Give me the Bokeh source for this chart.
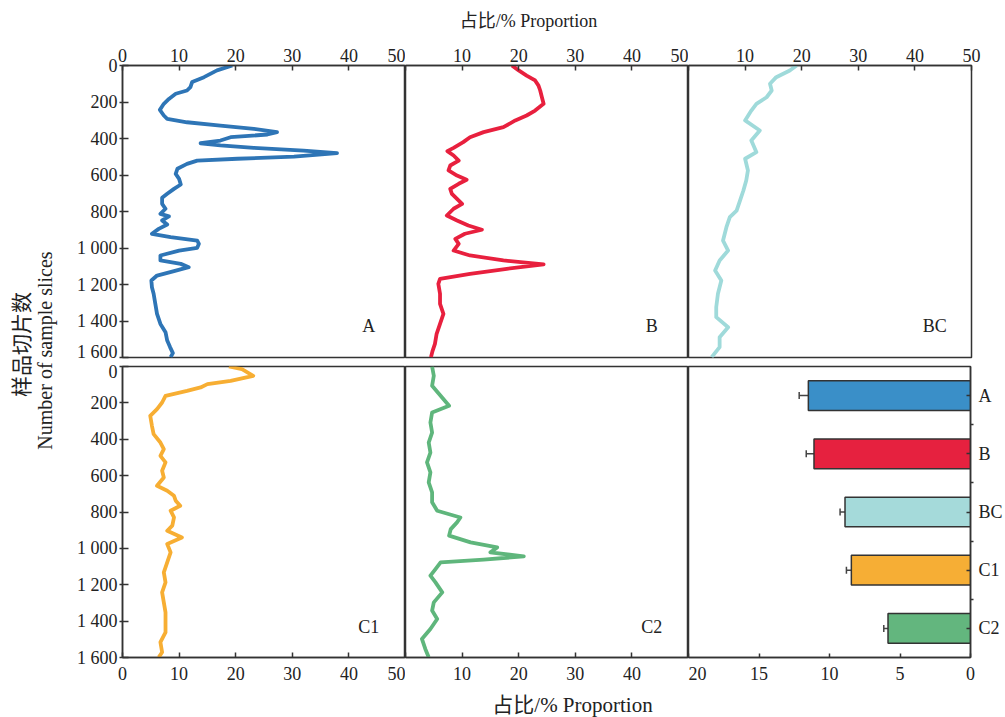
import math
from bokeh.plotting import figure
from bokeh.layouts import row, column
from bokeh.models import Range1d, FixedTicker, Label, Whisker, ColumnDataSource, TeeHead
from bokeh.embed import file_html
from bokeh.resources import INLINE

# ---------------- data ----------------
y_ticks = [0, 200, 400, 600, 800, 1000, 1200, 1400, 1600]
x_ticks = [0, 10, 20, 30, 40, 50]
bar_ticks = [0, 5, 10, 15, 20]

a_slice = [0, 27, 64, 91, 119, 137, 155, 183, 210, 243, 274, 292, 311, 329, 347, 365, 378, 393, 411, 426,
           438, 451, 466, 480, 499, 511, 521, 539, 566, 594, 621, 652, 676, 703, 725, 758, 785, 813, 827, 849,
           871, 895, 922, 941, 959, 977, 999, 1014, 1041, 1068, 1087, 1105, 1127, 1151, 1178, 1215, 1251, 1306, 1361, 1416,
           1461, 1507, 1543, 1576, 1598]
a_prop = [19.4, 16.7, 14.4, 12.3, 12.0, 11.4, 9.4, 8.2, 7.3, 6.6, 7.3, 7.9, 11.4, 17.3, 23.2, 27.3, 25.6, 19.1, 17.3, 13.8,
          17.3, 23.2, 32.0, 37.9, 30.3, 20.3, 13.2, 11.4, 9.7, 9.4, 10.0, 10.3, 9.1, 7.9, 7.0, 7.0, 7.6, 6.7, 8.2, 7.0,
          7.9, 6.4, 5.2, 8.5, 13.2, 13.5, 13.2, 10.0, 6.7, 6.7, 10.3, 11.7, 9.1, 6.1, 5.1, 5.2, 5.5, 5.8, 6.1, 6.7,
          7.6, 7.9, 8.4, 8.9, 8.5]

b_slice = [0, 27, 55, 82, 110, 137, 174, 210, 247, 274, 301, 338, 365, 393, 420, 451, 469, 493, 521, 548,
           575, 603, 626, 648, 676, 703, 731, 758, 785, 822, 849, 877, 900, 922, 950, 977, 1014, 1041, 1068, 1090,
           1114, 1142, 1169, 1196, 1251, 1306, 1361, 1416, 1470, 1525, 1562, 1598]
b_prop = [18.8, 20.0, 21.4, 22.9, 23.5, 23.8, 24.1, 24.4, 22.9, 21.4, 19.4, 17.3, 13.8, 11.4, 10.2, 8.5, 7.4, 8.5, 9.4, 7.9,
          7.6, 9.1, 10.8, 9.4, 7.9, 8.2, 9.1, 10.0, 8.5, 7.3, 9.1, 11.1, 13.5, 10.5, 8.8, 9.4, 8.5, 11.4, 17.3, 24.4,
          17.9, 11.4, 6.1, 5.8, 6.1, 6.1, 6.7, 6.1, 5.5, 5.2, 4.8, 4.5]

bc_slice = [0, 27, 64, 100, 137, 174, 210, 247, 301, 356, 411, 475, 511, 575, 630, 685, 740, 795, 831, 886,
            959, 1014, 1068, 1123, 1178, 1251, 1324, 1379, 1434, 1489, 1543, 1598]
bc_prop = [19.1, 17.9, 15.5, 14.4, 14.7, 13.8, 12.0, 11.1, 10.0, 12.6, 11.1, 12.0, 10.0, 10.5, 10.2, 9.7, 9.1, 8.5, 7.3, 6.7,
           6.1, 7.0, 5.5, 4.7, 5.8, 5.2, 4.9, 4.9, 7.0, 5.5, 5.5, 4.1]

c1_slice = [0, 15, 51, 79, 97, 115, 134, 161, 198, 234, 271, 326, 372, 418, 454, 491, 527, 573, 610, 656,
            683, 711, 738, 766, 793, 830, 875, 903, 940, 976, 1022, 1077, 1132, 1187, 1242, 1297, 1352, 1407, 1462, 1516,
            1571, 1599]
c1_prop = [18.8, 21.1, 23.1, 19.1, 15.0, 13.8, 11.4, 7.6, 7.0, 6.1, 4.9, 5.2, 5.5, 6.7, 7.3, 6.7, 7.6, 7.0, 7.3, 6.1,
           7.9, 9.1, 9.4, 10.2, 8.5, 9.1, 8.8, 7.9, 10.5, 7.9, 8.5, 7.9, 7.3, 7.6, 7.0, 7.3, 7.6, 7.6, 7.6, 6.7,
           7.0, 6.4]

c2_slice = [0, 51, 106, 161, 216, 253, 308, 363, 418, 473, 527, 582, 637, 692, 747, 793, 830, 857, 894, 930,
            967, 995, 1022, 1044, 1062, 1077, 1114, 1150, 1187, 1242, 1297, 1342, 1388, 1443, 1498, 1553, 1599]
c2_prop = [4.7, 5.0, 4.7, 6.2, 7.7, 4.7, 4.4, 4.7, 4.1, 4.4, 3.8, 4.4, 4.1, 4.7, 4.7, 5.6, 9.7, 9.1, 8.0, 7.7,
           11.5, 16.2, 15.0, 20.9, 13.8, 6.2, 5.3, 4.4, 5.3, 6.5, 5.0, 4.7, 5.6, 4.4, 2.9, 3.5, 4.1]

bar_cats = ["A", "B", "BC", "C1", "C2"]
bar_mean = [11.5, 11.1, 8.9, 8.45, 5.85]
bar_err = [0.65, 0.55, 0.35, 0.35, 0.3]

line_colors = {"A": "#2e75b6", "B": "#e8203e", "BC": "#9fdada", "C1": "#f7ae33", "C2": "#5fb67c"}
bar_colors = ["#3a8fc8", "#e6213f", "#a5dada", "#f6ae35", "#63b67e"]

# ---------------- styling ----------------
SERIF = "Liberation Serif"
MIXED = "Liberation Serif, Noto Sans CJK SC"
DARK = "#333333"
TXT = "#222222"
FS = "18px"
TITLE = "占比/% Proportion"

LAB_W = 58
TOP_T = 33                  # strip with the upper axis title
TOP_H = 32 + 292 + 4        # upper panels
BOT_H = 5 + 291 + 30        # lower panels
BOT_T = 717 - TOP_T - TOP_H - BOT_H   # strip with the lower axis title
RIGHT_B = 34
PANELS_W = 347 + 283 + 283 + RIGHT_B


def y_label(t):
    return f"{t // 1000} {t % 1000:03d}" if t >= 1000 else str(t)


def style_axis(ax):
    ax.axis_line_color = DARK
    ax.axis_line_width = 1.5
    ax.major_tick_line_color = DARK
    ax.major_tick_line_width = 1.5
    ax.minor_tick_line_color = None
    ax.major_label_text_font = SERIF
    ax.major_label_text_font_size = FS
    ax.major_label_text_color = TXT


def make_fig(width, height, borders, x_loc, y_loc, y_range, x_range):
    l, r, t, b = borders
    p = figure(width=width, height=height, x_range=x_range, y_range=y_range,
               x_axis_location=x_loc, y_axis_location=y_loc,
               min_border_left=l, min_border_right=r, min_border_top=t, min_border_bottom=b,
               toolbar_location=None, output_backend="svg")
    p.outline_line_color = DARK
    p.outline_line_width = 1.5
    p.outline_line_alpha = 1
    p.xgrid.grid_line_color = None
    p.ygrid.grid_line_color = None
    p.background_fill_color = "white"
    p.border_fill_color = "white"
    for ax in p.axis:
        style_axis(ax)
    return p


def profile(name, xs, ys, width, borders, x_loc, y_loc, hide_labels, top=True):
    p = make_fig(width, TOP_H if top else BOT_H, borders, x_loc, y_loc,
                 Range1d(1600, 0), Range1d(0, 50))
    p.line(x=xs, y=ys, line_color=line_colors[name], line_width=3.8, line_join="round")
    xa = p.xaxis[0]
    xa.ticker = FixedTicker(ticks=x_ticks, minor_ticks=[])
    xa.major_tick_in = 5
    xa.major_tick_out = 0
    xa.major_label_standoff = 4 if top else 9
    xa.major_label_overrides = {t: "" for t in hide_labels}
    if y_loc is not None:
        ya = p.yaxis[0]
        ya.ticker = FixedTicker(ticks=y_ticks, minor_ticks=[])
        ya.major_label_overrides = {t: y_label(t) for t in y_ticks}
        ya.major_tick_in = 6
        ya.major_tick_out = 3
        ya.major_label_standoff = 2
    p.add_layout(Label(x=43.5, y=1430, text=name, text_font=SERIF, text_font_size=FS,
                       text_color=TXT, text_align="center", text_baseline="middle"))
    return p


def text_strip(width, height):
    s = figure(width=width, height=height, x_range=Range1d(0, width), y_range=Range1d(height, 0),
               x_axis_location=None, y_axis_location=None, min_border=0,
               toolbar_location=None, output_backend="svg")
    s.outline_line_color = None
    s.xgrid.grid_line_color = None
    s.ygrid.grid_line_color = None
    return s


pA = profile("A", a_prop, a_slice, 347, (64, 0, 32, 4), "above", "left", [])
pB = profile("B", b_prop, b_slice, 283, (0, 0, 32, 4), "above", None, [0])
pBC = profile("BC", bc_prop, bc_slice, 283 + RIGHT_B, (0, RIGHT_B, 32, 4), "above", None, [0])
pC1 = profile("C1", c1_prop, c1_slice, 347, (64, 0, 5, 30), "below", "left", [], top=False)
pC2 = profile("C2", c2_prop, c2_slice, 283, (0, 0, 5, 30), "below", None, [0, 50], top=False)

# ---------------- bar panel ----------------
n = len(bar_cats)
bar_pos = [n - i - 0.5 for i in range(n)]
pBar = make_fig(283 + RIGHT_B, BOT_H, (0, RIGHT_B, 5, 30), "below", "right", Range1d(0, n), Range1d(20, 0))
src = ColumnDataSource(dict(y=bar_pos, mean=bar_mean,
                            upper=[m + e for m, e in zip(bar_mean, bar_err)],
                            color=bar_colors))
pBar.add_layout(Whisker(source=src, base="y", lower="mean", upper="upper", dimension="width",
                        line_color="#444444", line_width=1.5, lower_head=None,
                        upper_head=TeeHead(size=7, line_color="#444444", line_width=1.5)))
pBar.hbar(y="y", left=0, right="mean", height=0.51, fill_color="color",
          line_color=DARK, line_width=1.5, source=src)
bx = pBar.xaxis[0]
bx.ticker = FixedTicker(ticks=bar_ticks, minor_ticks=[])
bx.major_tick_in = 4
bx.major_tick_out = 0
bx.major_label_standoff = 9
by = pBar.yaxis[0]
by.ticker = FixedTicker(ticks=bar_pos, minor_ticks=[float(k) for k in range(1, n)])
by.major_label_overrides = {pos: c for pos, c in zip(bar_pos, bar_cats)}
by.major_tick_in = 4
by.major_tick_out = 0
by.minor_tick_in = 0
by.minor_tick_out = 3
by.minor_tick_line_color = DARK
by.minor_tick_line_width = 1.5
by.major_label_standoff = 5

# ---------------- axis title strips ----------------
tTop = text_strip(PANELS_W, TOP_T)
tTop.add_layout(Label(x=470, y=20, text=TITLE, text_font=MIXED, text_font_size="18px",
                      text_color=TXT, text_align="center", text_baseline="middle"))
tBot = text_strip(PANELS_W, BOT_T)
tBot.add_layout(Label(x=514, y=17, text=TITLE, text_font=MIXED, text_font_size="21px",
                      text_color=TXT, text_align="center", text_baseline="middle"))

# ---------------- left label strip ----------------
pLab = text_strip(LAB_W, 717)
pLab.add_layout(Label(x=19, y=344, text="样品切片数", angle=math.pi / 2,
                      text_font="Noto Sans CJK SC", text_font_size="21px", text_color=TXT,
                      text_align="center", text_baseline="middle"))
pLab.add_layout(Label(x=44, y=350, text="Number of sample slices", angle=math.pi / 2,
                      text_font=SERIF, text_font_size="20px", text_color=TXT,
                      text_align="center", text_baseline="middle"))

layout = row(pLab, column(tTop, row(pA, pB, pBC), row(pC1, pC2, pBar), tBot))
open("out.html", "w").write(file_html(layout, INLINE))
